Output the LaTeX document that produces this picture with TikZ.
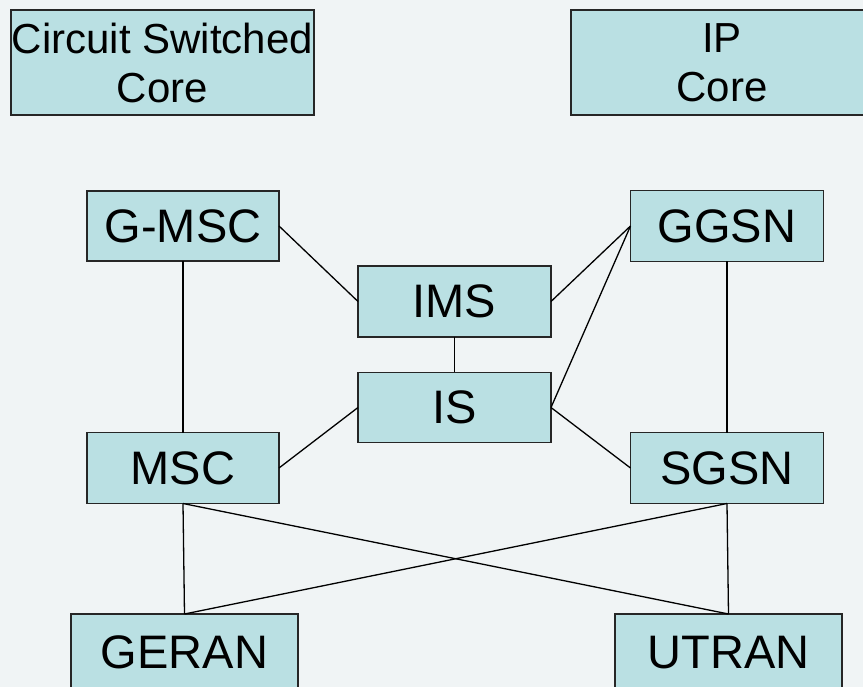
\documentclass[tikz,border=0pt]{standalone}
\usepackage{fontspec}
\setmainfont{Liberation Sans}
\definecolor{bgc}{RGB}{240,244,245}
\definecolor{boxc}{RGB}{186,224,227}
\tikzset{
  netbox/.style={draw=black!85, line width=1.3pt, fill=boxc, inner sep=0pt, outer sep=0pt,
    font=\fontsize{47}{52}\selectfont},
  corebox/.style={netbox, align=center, font=\fontsize{42}{49}\selectfont},
  link/.style={draw=black, line width=1.3pt}
}
\begin{document}
\begin{tikzpicture}[x=1pt,y=-1pt]
\fill[bgc] (0,0) rectangle (863,687);
\useasboundingbox (0,0) rectangle (863,687);
\begin{scope}
\clip (0,0) rectangle (863,687);
\node[corebox, minimum width=303, minimum height=105] (cs) at (162.5,62.5) {Circuit Switched\\Core};
\node[corebox, minimum width=302, minimum height=105] (ip) at (722,62.5) {IP\\Core};
\node[netbox, minimum width=192, minimum height=70] (gmsc) at (183,226) {G-MSC};
\node[netbox, minimum width=193, minimum height=71] (ggsn) at (727,226) {GGSN};
\node[netbox, minimum width=193, minimum height=71] (ims) at (454.5,301.5) {IMS};
\node[netbox, minimum width=193, minimum height=70] (is) at (454.5,407.5) {IS};
\node[netbox, minimum width=192, minimum height=71] (msc) at (183,468) {MSC};
\node[netbox, minimum width=193, minimum height=71] (sgsn) at (727,468) {SGSN};
\node[netbox, minimum width=227, minimum height=77] (geran) at (184.5,652.5) {GERAN};
\node[netbox, minimum width=227, minimum height=77] (utran) at (728.5,652.5) {UTRAN};

\draw[link] (gmsc.east) -- (ims.west);
\draw[link] (gmsc.south) -- (msc.north);
\draw[link] (ims.east) -- (ggsn.west);
\draw[link] (is.east) -- (ggsn.west);
\draw[link] (ims.south) -- (is.north);
\draw[link] (is.west) -- (msc.east);
\draw[link] (is.east) -- (sgsn.west);
\draw[link] (ggsn.south) -- (sgsn.north);
\draw[link] (msc.south) -- (geran.north);
\draw[link] (msc.south) -- (utran.north);
\draw[link] (sgsn.south) -- (geran.north);
\draw[link] (sgsn.south) -- (utran.north);
\end{scope}
\end{tikzpicture}
\end{document}
